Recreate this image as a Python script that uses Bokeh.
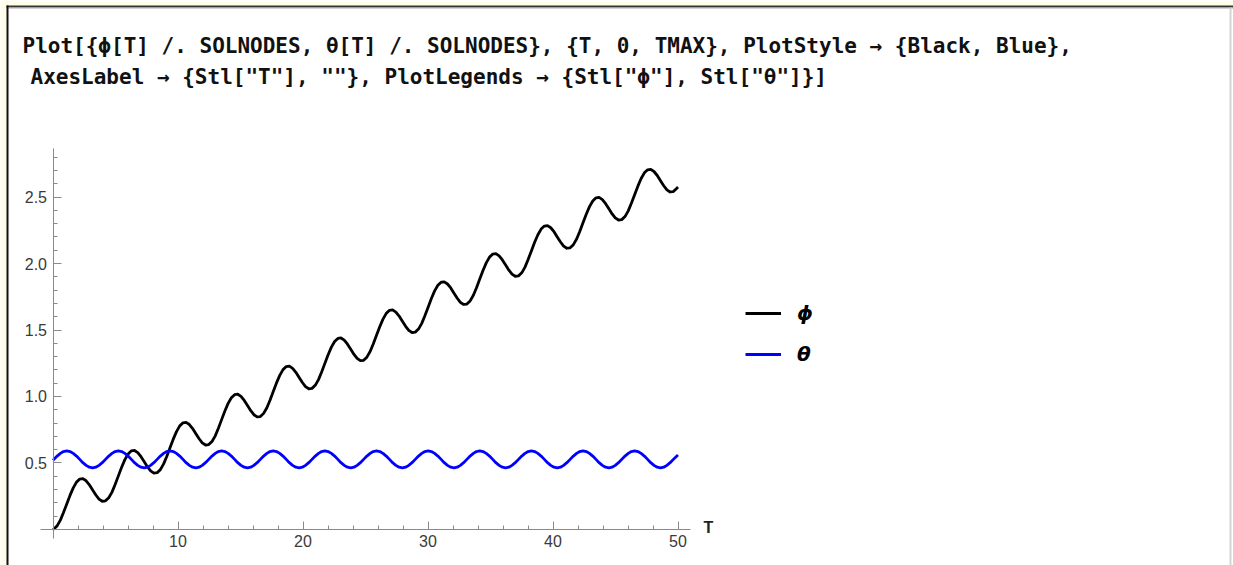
from bokeh.plotting import figure
from bokeh.models import Range1d, FixedTicker, Label, BoxAnnotation, Legend, LegendItem
from bokeh.core.properties import value
from bokeh.embed import file_html
from bokeh.resources import INLINE

# ---------------- data ----------------
T_VALUES = [0, 0.07, 0.33, 0.59, 0.84, 1.10, 1.36, 1.62, 1.88, 2.14, 2.39, 2.65, 2.91, 3.17, 3.43, 3.68, 3.94,
            4.20, 4.46, 4.72, 4.97, 5.23, 5.49, 5.75, 6.01, 6.27, 6.52, 6.78, 7.04, 7.30, 7.56, 7.81, 8.07,
            8.33, 8.59, 8.85, 9.10, 9.36, 9.62, 9.88, 10.14, 10.40, 10.65, 10.91, 11.17, 11.43, 11.69, 11.94, 12.20,
            12.46, 12.72, 12.98, 13.23, 13.49, 13.75, 14.01, 14.27, 14.53, 14.78, 15.04, 15.30, 15.56, 15.82, 16.07, 16.33,
            16.59, 16.85, 17.11, 17.36, 17.62, 17.88, 18.14, 18.40, 18.66, 18.91, 19.17, 19.43, 19.69, 19.95, 20.20, 20.46,
            20.72, 20.98, 21.24, 21.49, 21.75, 22.01, 22.27, 22.53, 22.79, 23.04, 23.30, 23.56, 23.82, 24.08, 24.33, 24.59,
            24.85, 25.11, 25.37, 25.62, 25.88, 26.14, 26.40, 26.66, 26.92, 27.17, 27.43, 27.69, 27.95, 28.21, 28.46, 28.72,
            28.98, 29.24, 29.50, 29.75, 30.01, 30.27, 30.53, 30.79, 31.05, 31.30, 31.56, 31.82, 32.08, 32.34, 32.59, 32.85,
            33.11, 33.37, 33.63, 33.88, 34.14, 34.40, 34.66, 34.92, 35.18, 35.43, 35.69, 35.95, 36.21, 36.47, 36.72, 36.98,
            37.24, 37.50, 37.76, 38.01, 38.27, 38.53, 38.79, 39.05, 39.31, 39.56, 39.82, 40.08, 40.34, 40.60, 40.85, 41.11,
            41.37, 41.63, 41.89, 42.14, 42.40, 42.66, 42.92, 43.18, 43.44, 43.69, 43.95, 44.21, 44.47, 44.73, 44.98, 45.24,
            45.50, 45.76, 46.02, 46.27, 46.53, 46.79, 47.05, 47.31, 47.57, 47.82, 48.08, 48.34, 48.60, 48.86, 49.11, 49.37,
            49.63, 49.89, 50]

PHI_VALUES = [0.0,
              0.004, 0.027, 0.070, 0.127, 0.192, 0.256, 0.313, 0.356, 0.379, 0.382, 0.366, 0.336, 0.297, 0.259, 0.228, 0.212,
              0.215, 0.239, 0.281, 0.338, 0.403, 0.468, 0.525, 0.567, 0.591, 0.594, 0.578, 0.547, 0.509, 0.470, 0.440, 0.424,
              0.427, 0.450, 0.493, 0.549, 0.614, 0.679, 0.736, 0.779, 0.802, 0.805, 0.789, 0.759, 0.720, 0.682, 0.651, 0.635,
              0.638, 0.662, 0.704, 0.761, 0.826, 0.891, 0.948, 0.990, 1.014, 1.017, 1.001, 0.970, 0.932, 0.893, 0.863, 0.847,
              0.849, 0.873, 0.915, 0.972, 1.037, 1.102, 1.159, 1.202, 1.225, 1.228, 1.212, 1.182, 1.143, 1.105, 1.074, 1.058,
              1.061, 1.084, 1.127, 1.184, 1.249, 1.314, 1.371, 1.413, 1.437, 1.440, 1.424, 1.393, 1.355, 1.316, 1.286, 1.269,
              1.272, 1.296, 1.338, 1.395, 1.460, 1.525, 1.582, 1.625, 1.648, 1.651, 1.635, 1.605, 1.566, 1.528, 1.497, 1.481,
              1.484, 1.507, 1.550, 1.607, 1.672, 1.737, 1.794, 1.836, 1.860, 1.862, 1.846, 1.816, 1.777, 1.739, 1.708, 1.692,
              1.695, 1.719, 1.761, 1.818, 1.883, 1.948, 2.005, 2.048, 2.071, 2.074, 2.058, 2.027, 1.989, 1.950, 1.920, 1.904,
              1.907, 1.930, 1.973, 2.030, 2.095, 2.160, 2.216, 2.259, 2.282, 2.285, 2.269, 2.239, 2.200, 2.162, 2.131, 2.115,
              2.118, 2.142, 2.184, 2.241, 2.306, 2.371, 2.428, 2.470, 2.494, 2.497, 2.481, 2.450, 2.412, 2.373, 2.343, 2.327,
              2.330, 2.353, 2.396, 2.453, 2.518, 2.582, 2.639, 2.682, 2.705, 2.708, 2.692, 2.662, 2.623, 2.585, 2.554, 2.538,
              2.541, 2.565, 2.575]

THETA_VALUES = [0.520,
                0.527, 0.552, 0.572, 0.586, 0.591, 0.586, 0.572, 0.552, 0.527, 0.502, 0.482, 0.468, 0.463, 0.468, 0.482, 0.502,
                0.527, 0.552, 0.572, 0.586, 0.591, 0.586, 0.572, 0.552, 0.527, 0.502, 0.482, 0.468, 0.463, 0.468, 0.482, 0.502,
                0.527, 0.552, 0.572, 0.586, 0.591, 0.586, 0.572, 0.552, 0.527, 0.502, 0.482, 0.468, 0.463, 0.468, 0.482, 0.502,
                0.527, 0.552, 0.572, 0.586, 0.591, 0.586, 0.572, 0.552, 0.527, 0.502, 0.482, 0.468, 0.463, 0.468, 0.482, 0.502,
                0.527, 0.552, 0.572, 0.586, 0.591, 0.586, 0.572, 0.552, 0.527, 0.502, 0.482, 0.468, 0.463, 0.468, 0.482, 0.502,
                0.527, 0.552, 0.572, 0.586, 0.591, 0.586, 0.572, 0.552, 0.527, 0.502, 0.482, 0.468, 0.463, 0.468, 0.482, 0.502,
                0.527, 0.552, 0.572, 0.586, 0.591, 0.586, 0.572, 0.552, 0.527, 0.502, 0.482, 0.468, 0.463, 0.468, 0.482, 0.502,
                0.527, 0.552, 0.572, 0.586, 0.591, 0.586, 0.572, 0.552, 0.527, 0.502, 0.482, 0.468, 0.463, 0.468, 0.482, 0.502,
                0.527, 0.552, 0.572, 0.586, 0.591, 0.586, 0.572, 0.552, 0.527, 0.502, 0.482, 0.468, 0.463, 0.468, 0.482, 0.502,
                0.527, 0.552, 0.572, 0.586, 0.591, 0.586, 0.572, 0.552, 0.527, 0.502, 0.482, 0.468, 0.463, 0.468, 0.482, 0.502,
                0.527, 0.552, 0.572, 0.586, 0.591, 0.586, 0.572, 0.552, 0.527, 0.502, 0.482, 0.468, 0.463, 0.468, 0.482, 0.502,
                0.527, 0.552, 0.572, 0.586, 0.591, 0.586, 0.572, 0.552, 0.527, 0.502, 0.482, 0.468, 0.463, 0.468, 0.482, 0.502,
                0.527, 0.551, 0.560]

X_MAJOR_TICKS = [10, 20, 30, 40, 50]
X_MINOR_TICKS = [2, 4, 6, 8, 12, 14, 16, 18, 22, 24, 26, 28, 32, 34, 36, 38, 42, 44, 46, 48]
Y_MAJOR_TICKS = [0.5, 1.0, 1.5, 2.0, 2.5]
Y_MINOR_TICKS = [0.1, 0.2, 0.3, 0.4, 0.6, 0.7, 0.8, 0.9, 1.1, 1.2, 1.3, 1.4, 1.6, 1.7, 1.8, 1.9,
                 2.1, 2.2, 2.3, 2.4, 2.6, 2.7, 2.8]
LEGEND_LABELS = ["ϕ", "θ"]
AXIS_LABEL_X = "T"
CODE_LINE_1 = "Plot[{ϕ[T] /. SOLNODES, θ[T] /. SOLNODES}, {T, 0, TMAX}, PlotStyle → {Black, Blue},"
CODE_LINE_2 = "AxesLabel → {Stl[\"T\"], \"\"}, PlotLegends → {Stl[\"ϕ\"], Stl[\"θ\"]}]"

# ---------------- layout geometry ----------------
W, H = 1233, 565
# pixel box of the plotted region and the data extent it shows
PL, PR, PT, PB = 40, 690, 148, 538
XA, XB = -1.0, 51.0
YA, YB = -0.068, 2.865


def sx(px):
    return XA + (px - PL) * (XB - XA) / (PR - PL)


def sy(py):
    return YB - (py - PT) * (YB - YA) / (PB - PT)


# the frame covers the whole canvas; ranges are extended so the plot region lands where it should
p = figure(width=W, height=H, output_backend="svg", toolbar_location=None,
           x_range=Range1d(sx(0), sx(W)), y_range=Range1d(sy(H), sy(0)),
           min_border=0, min_border_left=0, min_border_right=0,
           min_border_top=0, min_border_bottom=0,
           background_fill_color="white", border_fill_color="white",
           outline_line_color=None)
p.grid.visible = False

r_phi = p.line(T_VALUES, PHI_VALUES, line_color="black", line_width=2.8, line_join="round")
r_theta = p.line(T_VALUES, THETA_VALUES, line_color="#0000ff", line_width=2.8, line_join="round")

AX_COL = "#8a8a8a"
for ax in (p.xaxis[0], p.yaxis[0]):
    ax.fixed_location = 0
    ax.axis_line_color = AX_COL
    ax.major_tick_line_color = AX_COL
    ax.minor_tick_line_color = AX_COL
    ax.major_tick_in = 8
    ax.major_tick_out = 0
    ax.minor_tick_in = 4
    ax.minor_tick_out = 0
    ax.major_label_text_font = "Liberation Sans"
    ax.major_label_text_font_size = "16px"
    ax.major_label_text_color = "#3a3a3a"
    ax.major_label_standoff = 6

p.xaxis.bounds = (XA, XB)
p.yaxis.bounds = (YA, YB)
p.xaxis.ticker = FixedTicker(ticks=X_MAJOR_TICKS, minor_ticks=X_MINOR_TICKS)
p.yaxis.ticker = FixedTicker(ticks=Y_MAJOR_TICKS, minor_ticks=Y_MINOR_TICKS)
p.yaxis.major_label_overrides = {0.5: "0.5", 1.0: "1.0", 1.5: "1.5", 2.0: "2.0", 2.5: "2.5"}

p.add_layout(Label(x=sx(703), y=sy(527), text=AXIS_LABEL_X, text_font="Liberation Sans",
                   text_font_style="bold", text_font_size="16px", text_color="#222222",
                   text_baseline="middle", text_align="left"))

legend = Legend(items=[LegendItem(label=value(LEGEND_LABELS[0]), renderers=[r_phi]),
                       LegendItem(label=value(LEGEND_LABELS[1]), renderers=[r_theta])],
                location=(745, H - 366), glyph_width=36, glyph_height=20, label_height=20,
                label_standoff=16, spacing=17, padding=0, margin=0,
                border_line_alpha=0, background_fill_alpha=0,
                label_text_font="DejaVu Sans", label_text_font_style="bold italic",
                label_text_font_size="20px", label_text_color="black")
p.add_layout(legend)

# code text of the notebook cell
for txt, xpx, ypx in ((CODE_LINE_1, 22, 45), (CODE_LINE_2, 30, 76)):
    p.add_layout(Label(x=sx(xpx), y=sy(ypx), text=txt, text_font="DejaVu Sans Mono",
                       text_font_style="bold", text_font_size="21px", text_color="#111111",
                       text_baseline="middle", text_align="left"))

# notebook frame: yellow surroundings and borders
YELLOW = "#fffde8"
p.add_layout(BoxAnnotation(left=sx(0), right=sx(W), top=sy(0), bottom=sy(5),
                           fill_color=YELLOW, fill_alpha=1, line_alpha=0))
p.add_layout(BoxAnnotation(left=sx(0), right=sx(6), top=sy(0), bottom=sy(H),
                           fill_color=YELLOW, fill_alpha=1, line_alpha=0))
p.add_layout(BoxAnnotation(left=sx(6), right=sx(W), top=sy(5), bottom=sy(7),
                           fill_color="#333333", fill_alpha=1, line_alpha=0))
p.add_layout(BoxAnnotation(left=sx(6), right=sx(W), top=sy(7), bottom=sy(8),
                           fill_color="#aaaaaa", fill_alpha=1, line_alpha=0))
p.add_layout(BoxAnnotation(left=sx(6), right=sx(8), top=sy(5), bottom=sy(H),
                           fill_color="#111111", fill_alpha=1, line_alpha=0))
p.add_layout(BoxAnnotation(left=sx(1229), right=sx(1231), top=sy(7), bottom=sy(H),
                           fill_color="#d4d4d4", fill_alpha=1, line_alpha=0))

open("out.html", "w").write(file_html(p, INLINE))
